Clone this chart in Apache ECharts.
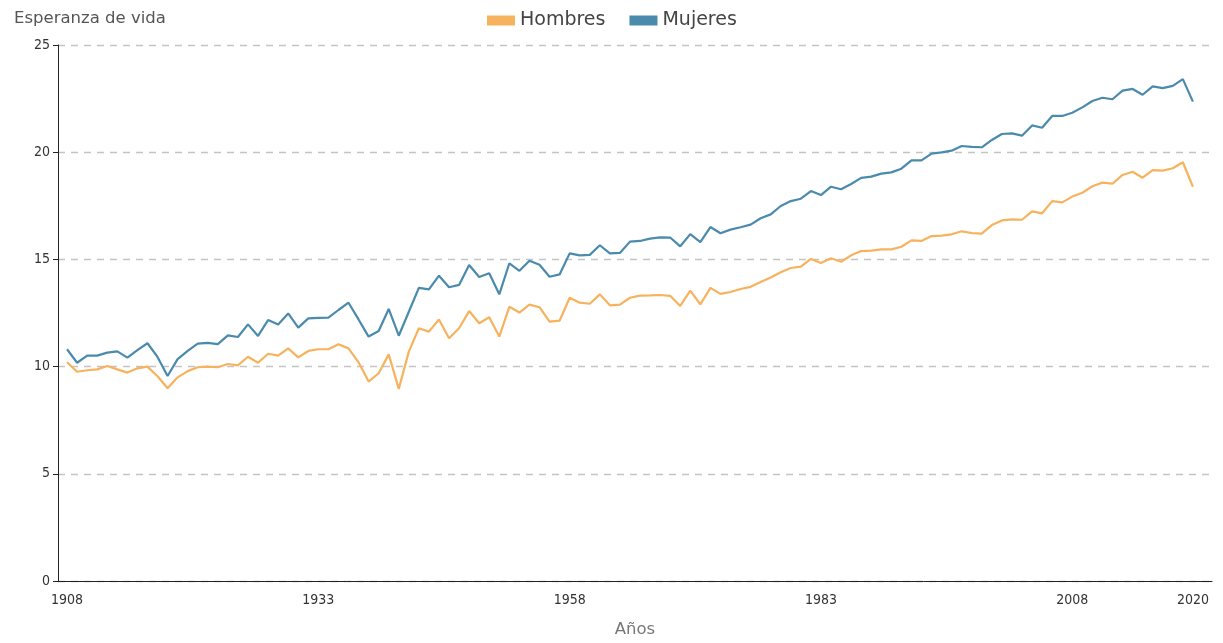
<!DOCTYPE html>
<html>
<head>
<meta charset="utf-8">
<script src="https://cdn.jsdelivr.net/npm/echarts@6/dist/echarts.min.js"></script>
<style>
html,body{margin:0;padding:0;background:#fff;}
#chart{width:1223px;height:643px;}
</style>
</head>
<body>
<div id="chart"></div>
<script>
const firstYear = 1908;
const lastYear = 2020;
const xTickLabels = [1908, 1933, 1958, 1983, 2008, 2020];
const seriesNames = ['Hombres', 'Mujeres'];

const hombres = [
  10.20, 9.76, 9.83, 9.87, 10.03, 9.87, 9.72, 9.92, 10.00, 9.55,
  8.99, 9.50, 9.79, 9.97, 10.00, 9.97, 10.12, 10.06, 10.46, 10.18,
  10.60, 10.51, 10.85, 10.43, 10.73, 10.81, 10.81, 11.04, 10.85, 10.20,
  9.30, 9.69, 10.57, 8.96, 10.70, 11.79, 11.63, 12.20, 11.32, 11.79,
  12.59, 12.02, 12.30, 11.40, 12.79, 12.52, 12.89, 12.77, 12.10, 12.14,
  13.21, 12.98, 12.93, 13.37, 12.86, 12.89, 13.21, 13.31, 13.32, 13.34,
  13.30, 12.83, 13.54, 12.90, 13.67, 13.39, 13.48, 13.62, 13.72, 13.95,
  14.16, 14.40, 14.60, 14.66, 15.02, 14.83, 15.05, 14.89, 15.19, 15.39,
  15.41, 15.47, 15.47, 15.59, 15.89, 15.86, 16.09, 16.11, 16.17, 16.31,
  16.23, 16.20, 16.60, 16.82, 16.87, 16.85, 17.24, 17.15, 17.72, 17.66,
  17.93, 18.11, 18.41, 18.58, 18.53, 18.94, 19.09, 18.81, 19.16, 19.14,
  19.25, 19.53, 18.39
];

const mujeres = [
  10.81, 10.18, 10.51, 10.51, 10.65, 10.71, 10.42, 10.77, 11.09, 10.45,
  9.56, 10.35, 10.73, 11.07, 11.11, 11.05, 11.46, 11.38, 11.97, 11.43,
  12.17, 11.96, 12.48, 11.82, 12.25, 12.27, 12.28, 12.64, 12.98, 12.20,
  11.40, 11.66, 12.69, 11.44, 12.56, 13.67, 13.60, 14.24, 13.70, 13.81,
  14.74, 14.18, 14.35, 13.37, 14.82, 14.47, 14.94, 14.75, 14.19, 14.30,
  15.28, 15.19, 15.21, 15.66, 15.28, 15.30, 15.83, 15.86, 15.97, 16.03,
  16.02, 15.61, 16.18, 15.81, 16.51, 16.22, 16.39, 16.50, 16.62, 16.92,
  17.10, 17.49, 17.72, 17.83, 18.19, 18.00, 18.39, 18.27, 18.52, 18.80,
  18.86, 19.00, 19.06, 19.23, 19.62, 19.62, 19.93, 19.99, 20.07, 20.29,
  20.25, 20.23, 20.57, 20.85, 20.88, 20.77, 21.25, 21.14, 21.69, 21.69,
  21.84, 22.09, 22.39, 22.54, 22.47, 22.87, 22.95, 22.68, 23.07, 22.99,
  23.09, 23.41, 22.36
];

const years = [];
for (let y = firstYear; y <= lastYear; y++) years.push(y);
const pairs = (vals) => vals.map((v, i) => [years[i], v]);

const tickFont = 'Liberation Sans Narrow, DejaVu Sans Condensed, sans-serif';
const titleFont = 'DejaVu Sans, sans-serif';

const chart = echarts.init(document.getElementById('chart'), null, {renderer: 'canvas'});
chart.setOption({
  animation: false,
  backgroundColor: '#ffffff',
  color: ['#F7B25E', '#4A8BAD'],
  title: {
    text: 'Esperanza de vida',
    left: 9, top: 5,
    textStyle: {fontFamily: titleFont, fontSize: 16.5, fontWeight: 'normal', color: '#555'}
  },
  legend: {
    data: seriesNames,
    top: 6, left: 482,
    itemWidth: 28, itemHeight: 10, itemGap: 24,
    icon: 'rect',
    textStyle: {fontFamily: titleFont, fontSize: 19, color: '#444'}
  },
  grid: {left: 58, right: 11, top: 45, bottom: 62, containLabel: false},
  xAxis: {
    type: 'value',
    min: 1907.1, max: 2021.9,
    name: 'Años', nameLocation: 'middle', nameGap: 40,
    nameTextStyle: {fontFamily: titleFont, fontSize: 16.5, color: '#777'},
    axisLine: {show: true, lineStyle: {color: '#222', width: 1}},
    axisTick: {show: false},
    splitLine: {show: false},
    axisLabel: {
      customValues: xTickLabels,
      fontFamily: tickFont, fontSize: 14, color: '#333', margin: 12,
      formatter: (v) => String(v)
    }
  },
  yAxis: {
    type: 'value',
    min: 0, max: 25, interval: 5,
    axisLine: {show: true, lineStyle: {color: '#222', width: 1}},
    axisTick: {show: true, length: 5, lineStyle: {color: '#222'}},
    axisLabel: {fontFamily: tickFont, fontSize: 14, color: '#333', margin: 8},
    splitLine: {show: true, lineStyle: {color: '#c4c4c4', type: [7, 6], width: 1.3}}
  },
  series: [
    {name: seriesNames[0], type: 'line', data: pairs(hombres), showSymbol: false,
     lineStyle: {width: 2.2, color: '#F7B25E'}, itemStyle: {color: '#F7B25E'}, z: 3},
    {name: seriesNames[1], type: 'line', data: pairs(mujeres), showSymbol: false,
     lineStyle: {width: 2.2, color: '#4A8BAD'}, itemStyle: {color: '#4A8BAD'}, z: 3}
  ]
});
</script>
</body>
</html>
